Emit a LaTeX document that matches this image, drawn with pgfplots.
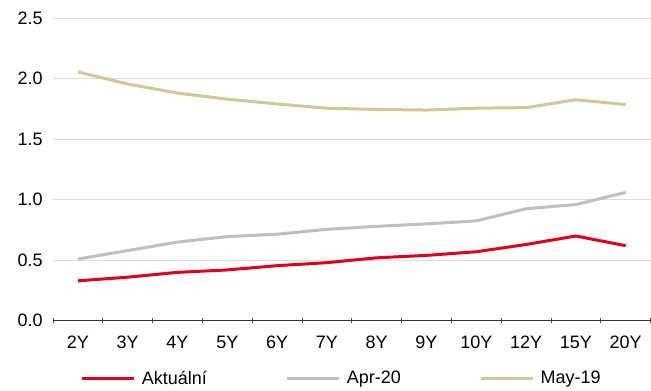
\documentclass[border=0pt]{standalone}
\usepackage{pgfplots}
\pgfplotsset{compat=1.18}
\usepackage{fontspec}
\setmainfont{Liberation Sans}
\definecolor{cRed}{HTML}{E2001A}
\definecolor{cGray}{HTML}{BFBFBF}
\definecolor{cTan}{HTML}{D8C596}
\definecolor{cGrid}{HTML}{DDDDDD}
\begin{document}
\fontsize{18}{21}\selectfont
\begin{tikzpicture}
\begin{axis}[
  scale only axis,
  width=598pt, height=303pt,
  xmin=-0.5, xmax=11.5,
  ymin=0, ymax=2.5,
  ytick={0,0.5,1,1.5,2,2.5},
  xtick={0,1,2,3,4,5,6,7,8,9,10,11},
  xticklabels={2Y,3Y,4Y,5Y,6Y,7Y,8Y,9Y,10Y,12Y,15Y,20Y},
  minor xtick={-0.5,0.5,1.5,2.5,3.5,4.5,5.5,6.5,7.5,8.5,9.5,10.5,11.5},
  major x tick style={draw=none},
  minor x tick style={draw=black!70, line width=0.8pt},
  minor tick length=5pt,
  tick align=outside,
  axis x line=bottom,
  axis y line=left,
  x axis line style={-, draw=black!80, line width=0.8pt},
  y axis line style={draw=none},
  ytick style={draw=none},
  ymajorgrids,
  grid style={cGrid, line width=0.8pt},
  yticklabel style={xshift=-2pt, /pgf/number format/fixed, /pgf/number format/fixed zerofill, /pgf/number format/precision=1},
  /pgf/number format/assume math mode=true,
  ticklabel style={font=\fontsize{18}{21}\selectfont},
  xticklabel style={yshift=-7pt},
  legend style={at={(0.5,0)}, yshift=-46pt, xshift=-10pt, anchor=north, draw=none, fill=none,
    legend columns=3, font=\fontsize{18}{21}\selectfont,
    /tikz/every odd column/.append style={column sep=4pt},
    /tikz/every even column/.append style={column sep=77pt}},
  legend image code/.code={\draw[#1] (0pt,0pt) -- (52pt,0pt);},
  every axis plot/.append style={line width=3pt},
  clip=false,
]
\addplot[cRed] coordinates {(0,0.33) (1,0.36) (2,0.40) (3,0.42) (4,0.455) (5,0.48) (6,0.52) (7,0.54) (8,0.57) (9,0.63) (10,0.70) (11,0.62)};
\addplot[cGray] coordinates {(0,0.51) (1,0.58) (2,0.65) (3,0.695) (4,0.715) (5,0.755) (6,0.78) (7,0.80) (8,0.825) (9,0.925) (10,0.96) (11,1.06)};
\addplot[cTan] coordinates {(0,2.055) (1,1.955) (2,1.88) (3,1.83) (4,1.79) (5,1.755) (6,1.745) (7,1.74) (8,1.755) (9,1.76) (10,1.825) (11,1.785)};
\legend{Aktuální,Apr-20,May-19}
\end{axis}
\path[use as bounding box] ([xshift=-53pt,yshift=-69pt]current axis.south west) rectangle ([yshift=18pt]current axis.north east);
\end{tikzpicture}
\end{document}
